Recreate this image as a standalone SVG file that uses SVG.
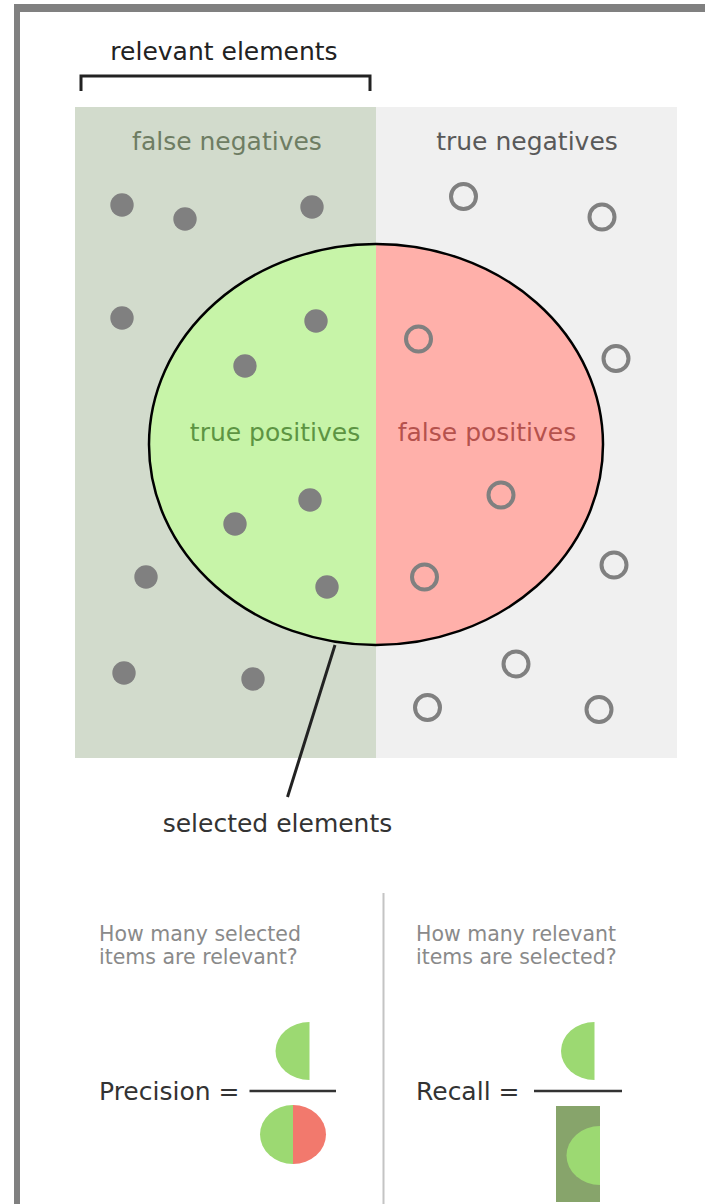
<svg xmlns="http://www.w3.org/2000/svg" width="705" height="1204" viewBox="0 0 705 1204">
<style>
text{font-family:"DejaVu Sans","Liberation Sans",sans-serif}
.lbl{font-size:25px;text-anchor:middle}
.q{font-size:20.5px;fill:#8a8a8a}
.dot{fill:#808080}
.ring{fill:none;stroke:#808080;stroke-width:4}
.eq{font-size:25px;fill:#333}
</style>
<rect width="705" height="1204" fill="#ffffff"/>
<g id="frame">
<rect x="14" y="4" width="691" height="8" fill="#808080"/>
<rect x="14" y="4" width="6" height="1200" fill="#808080"/>
</g>
<g id="relevant-bracket">
<text x="224" y="60" class="lbl" fill="#222">relevant elements</text>
<path d="M81,91 V76 H370 V91" fill="none" stroke="#222" stroke-width="3"/>
</g>
<g id="false-negatives">
<rect x="75" y="107" width="301" height="651" fill="#d2dbcc"/>
<text x="227" y="150" class="lbl" fill="#6e7d63">false negatives</text>
</g>
<g id="true-negatives">
<rect x="376" y="107" width="301" height="651" fill="#f0f0f0"/>
<text x="527" y="150" class="lbl" fill="#595959">true negatives</text>
</g>
<g id="selected">
<clipPath id="cl"><rect x="0" y="0" width="376" height="1204"/></clipPath>
<clipPath id="cr"><rect x="376" y="0" width="329" height="1204"/></clipPath>
<ellipse cx="376" cy="444.5" rx="227" ry="200.5" fill="#c7f4a8" clip-path="url(#cl)"/>
<ellipse cx="376" cy="444.5" rx="227" ry="200.5" fill="#ffb0aa" clip-path="url(#cr)"/>
<ellipse cx="376" cy="444.5" rx="227" ry="200.5" fill="none" stroke="#000" stroke-width="2.5"/>
<text x="275" y="441" class="lbl" fill="#5d9443">true positives</text>
<text x="487" y="441" class="lbl" fill="#b5524d">false positives</text>
</g>
<g id="items">
<circle class="dot" cx="122" cy="205" r="11.7"/>
<circle class="dot" cx="185" cy="219" r="11.7"/>
<circle class="dot" cx="312" cy="207" r="11.7"/>
<circle class="dot" cx="122" cy="318" r="11.7"/>
<circle class="dot" cx="316" cy="321" r="11.7"/>
<circle class="dot" cx="245" cy="366" r="11.7"/>
<circle class="dot" cx="310" cy="500" r="11.7"/>
<circle class="dot" cx="235" cy="524" r="11.7"/>
<circle class="dot" cx="327" cy="587" r="11.7"/>
<circle class="dot" cx="146" cy="577" r="11.7"/>
<circle class="dot" cx="124" cy="673" r="11.7"/>
<circle class="dot" cx="253" cy="679" r="11.7"/>
<circle class="ring" cx="463.5" cy="196.5" r="12.5"/>
<circle class="ring" cx="602" cy="217" r="12.5"/>
<circle class="ring" cx="418.5" cy="339" r="12.5"/>
<circle class="ring" cx="616" cy="358.5" r="12.5"/>
<circle class="ring" cx="501" cy="495" r="12.5"/>
<circle class="ring" cx="424.5" cy="577" r="12.5"/>
<circle class="ring" cx="614" cy="565" r="12.5"/>
<circle class="ring" cx="516" cy="664" r="12.5"/>
<circle class="ring" cx="427.5" cy="707.5" r="12.5"/>
<circle class="ring" cx="599" cy="709.5" r="12.5"/>
</g>
<g id="connectors">
<line x1="335" y1="645" x2="287.5" y2="797" stroke="#222" stroke-width="3"/>
<line x1="383.5" y1="893" x2="383.5" y2="1204" stroke="#c4c4c4" stroke-width="2"/>
</g>
<g id="selected-label">
<text x="277.5" y="832" class="lbl" fill="#333">selected elements</text>
</g>
<g id="precision">
<text x="99" y="941" class="q">How many selected</text>
<text x="99" y="964" class="q">items are relevant?</text>
<text x="99" y="1100" class="eq">Precision =</text>
<line x1="249.5" y1="1091" x2="336" y2="1091" stroke="#333" stroke-width="2.5"/>
<path d="M309.5,1022 A34,29 0 0 0 309.5,1080 Z" fill="#9cd972"/>
<path d="M293,1105 A33,29.5 0 0 0 293,1164 Z" fill="#9cd972"/>
<path d="M293,1105 A33,29.5 0 0 1 293,1164 Z" fill="#f2796d"/>
</g>
<g id="recall">
<text x="416" y="941" class="q">How many relevant</text>
<text x="416" y="964" class="q">items are selected?</text>
<text x="416" y="1100" class="eq">Recall =</text>
<line x1="534" y1="1091" x2="622" y2="1091" stroke="#333" stroke-width="2.5"/>
<path d="M594.5,1022 A33.5,29 0 0 0 594.5,1080 Z" fill="#9cd972"/>
<rect x="556" y="1106" width="44" height="96" fill="#87a46b"/>
<path d="M600,1126 A33.5,29.5 0 0 0 600,1185 Z" fill="#9cd972"/>
</g>
</svg>
